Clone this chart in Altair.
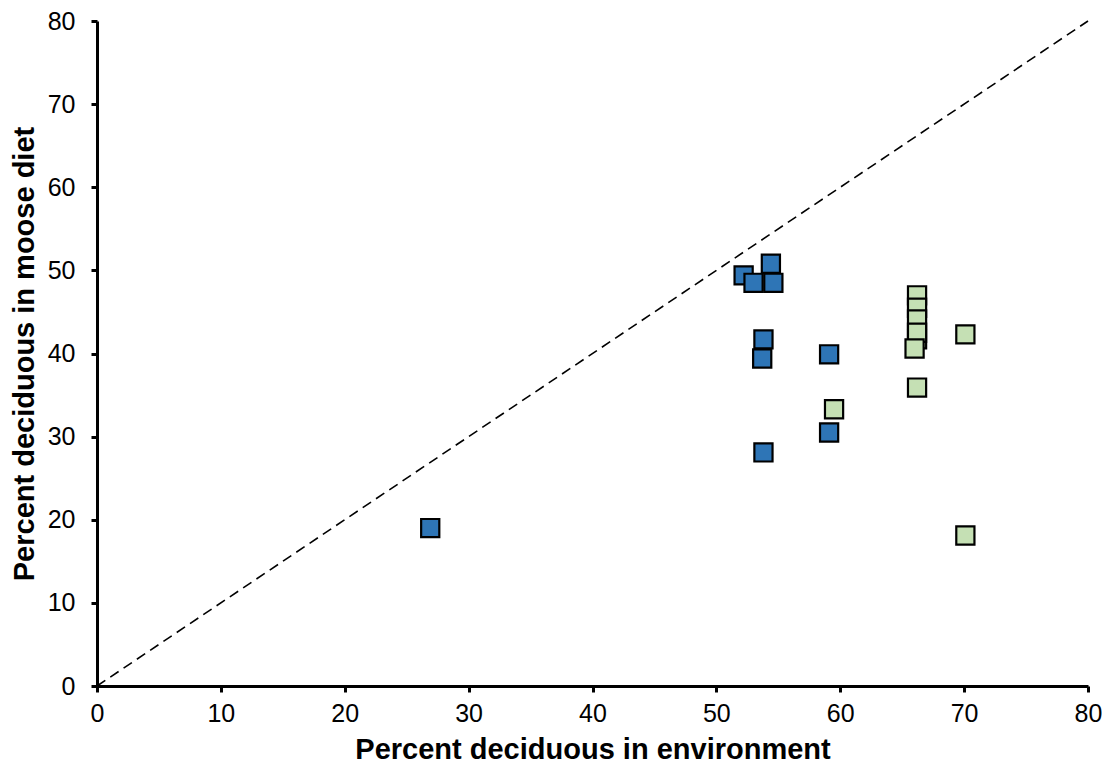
import altair as alt
import pandas as pd

# Data
blue_x = [26.9, 52.2, 54.4, 53.0, 54.6, 53.8, 53.7, 59.1, 59.1, 53.8]
blue_y = [19.0, 49.4, 50.8, 48.5, 48.5, 41.7, 39.4, 39.9, 30.5, 28.1]
green_x = [66.2, 66.2, 66.2, 66.2, 66.2, 66.0, 66.2, 59.5, 70.1, 70.1]
green_y = [47.0, 45.5, 44.1, 41.7, 42.5, 40.6, 35.9, 33.3, 42.3, 18.1]
diag = [0, 80]
ticks = [0, 10, 20, 30, 40, 50, 60, 70, 80]

df = pd.DataFrame({
    "env": blue_x + green_x,
    "diet": blue_y + green_y,
    "group": ["blue"] * len(blue_x) + ["green"] * len(green_x),
})
line_df = pd.DataFrame({"a": diag, "b": diag})

FONT = "Liberation Sans"

xscale = alt.Scale(domain=[0, 80], nice=False, zero=False)
yscale = alt.Scale(domain=[0, 80], nice=False, zero=False)

xaxis = alt.Axis(values=ticks, title="Percent deciduous in environment",
                 labelPadding=9, titlePadding=9, labelFlush=False)
yaxis = alt.Axis(values=ticks, title="Percent deciduous in moose diet",
                 labelPadding=16, titlePadding=8, labelFlush=False)

line = alt.Chart(line_df).mark_line(
    color="black", strokeWidth=1.6, strokeDash=[10, 6]
).encode(
    x=alt.X("a:Q", scale=xscale, axis=xaxis),
    y=alt.Y("b:Q", scale=yscale, axis=yaxis),
)

pts = alt.Chart(df).mark_square(
    size=330, stroke="black", strokeWidth=2.2, opacity=1
).encode(
    x=alt.X("env:Q", scale=xscale, axis=xaxis),
    y=alt.Y("diet:Q", scale=yscale, axis=yaxis),
    fill=alt.Fill("group:N", scale=alt.Scale(domain=["blue", "green"],
                                             range=["#2E75B6", "#C5E0B4"]),
                  legend=None),
)

chart = alt.layer(line, pts).properties(
    width=991, height=665,
    autosize=alt.AutoSizeParams(type="none"),
    padding={"left": 89, "top": 13, "right": 14, "bottom": 80},
).configure_view(stroke=None).configure_axis(
    grid=False,
    domainColor="black", domainWidth=3,
    tickColor="black", tickWidth=3, tickSize=6,
    labelFont=FONT, labelFontSize=25, labelColor="black",
    titleFont=FONT, titleFontSize=29, titleFontWeight="bold", titleColor="black",
)

chart.save("out.html", embed_options={"renderer": "svg", "actions": False})
